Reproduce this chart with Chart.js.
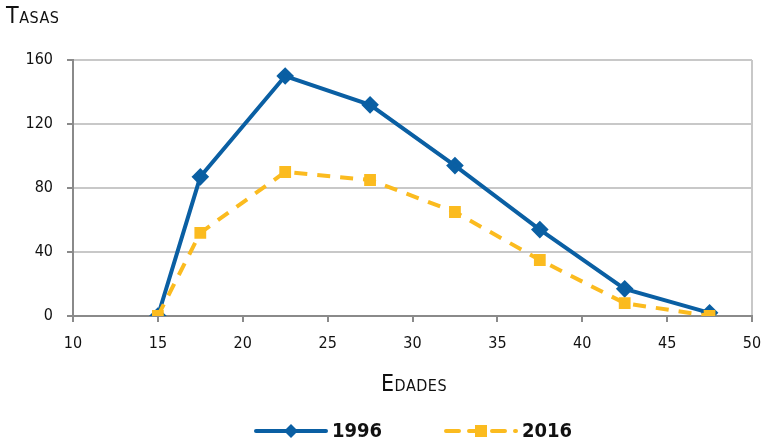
<!DOCTYPE html>
<html>
<head>
<meta charset="utf-8">
<script src="https://cdn.jsdelivr.net/npm/chart.js@4"></script>
<style>
  html, body { margin: 0; padding: 0; background: #fff; }
  #wrap { position: relative; width: 762px; height: 444px; }
  .title { position: absolute; font-family: 'DejaVu Sans Condensed', 'Liberation Sans Narrow', sans-serif;
           font-variant: small-caps; color: #111; font-size: 23px; letter-spacing: 0.5px; }
</style>
</head>
<body>
<div id="wrap">
  <canvas id="chart" width="762" height="444"></canvas>
  <div class="title" style="left:6px; top:2px;">Tasas</div>
  <div class="title" style="left:381px; top:370px;">Edades</div>
</div>
<script>
const edades = [15, 17.5, 22.5, 27.5, 32.5, 37.5, 42.5, 47.5];
const tasas1996 = [0, 87, 150, 132, 94, 54, 17, 2];
const tasas2016 = [0, 52, 90, 85, 65, 35, 8, 0];
const series = ['1996', '2016'];

const font = "'DejaVu Sans Condensed', 'Liberation Sans Narrow', sans-serif";
const blue = '#0a5fa3';
const yellow = '#fbbb1f';

// legend drawn by hand so the line sample carries the marker
const legendPlugin = {
  id: 'lineLegend',
  afterDraw(chart) {
    const ctx = chart.ctx;
    const y = 431;
    const items = [{ x: 256, ds: chart.data.datasets[0] }, { x: 446, ds: chart.data.datasets[1] }];
    ctx.save();
    items.forEach(it => {
      const ds = it.ds;
      ctx.strokeStyle = ds.borderColor;
      ctx.lineWidth = ds.borderWidth;
      ctx.setLineDash(ds.borderDash || []);
      ctx.lineCap = 'round';
      ctx.beginPath();
      ctx.moveTo(it.x, y);
      ctx.lineTo(it.x + 70, y);
      ctx.stroke();
      ctx.setLineDash([]);
      ctx.fillStyle = ds.pointBackgroundColor;
      const cx = it.x + 35;
      if (ds.pointStyle === 'rectRot') {
        ctx.beginPath();
        ctx.moveTo(cx, y - 7); ctx.lineTo(cx + 7, y); ctx.lineTo(cx, y + 7); ctx.lineTo(cx - 7, y);
        ctx.closePath(); ctx.fill();
      } else {
        ctx.fillRect(cx - 6, y - 6, 12, 12);
      }
      ctx.fillStyle = '#111';
      ctx.font = 'bold 20px ' + font;
      ctx.textBaseline = 'middle';
      ctx.fillText(ds.label, it.x + 76, y + 1);
    });
    ctx.restore();
  }
};

new Chart(document.getElementById('chart'), {
  type: 'line',
  data: {
    datasets: [
      {
        label: series[0],
        data: edades.map((x, i) => ({ x, y: tasas1996[i] })),
        borderColor: blue,
        backgroundColor: blue,
        pointBackgroundColor: blue,
        pointBorderColor: blue,
        borderWidth: 4,
        pointStyle: 'rectRot',
        pointRadius: 6,
        tension: 0,
        order: 1,
      },
      {
        label: series[1],
        data: edades.map((x, i) => ({ x, y: tasas2016[i] })),
        borderColor: yellow,
        backgroundColor: yellow,
        pointBackgroundColor: yellow,
        pointBorderColor: yellow,
        borderWidth: 4,
        borderDash: [13, 10],
        pointStyle: 'rect',
        pointRadius: 5.5,
        tension: 0,
        order: 0,
      }
    ]
  },
  options: {
    responsive: false,
    animation: false,
    layout: { padding: { top: 60, right: 10, left: 0, bottom: 0 } },
    plugins: { legend: { display: false }, tooltip: { enabled: false } },
    scales: {
      x: {
        type: 'linear',
        min: 10, max: 50,
        afterFit: s => { s.height = 128; s.paddingLeft = 0; s.paddingRight = 0; },
        ticks: { stepSize: 5, color: '#111', font: { family: font, size: 16 }, padding: 12 },
        grid: {
          color: c => (c.tick && c.tick.value === 50 ? '#c8c8c8' : 'rgba(0,0,0,0)'),
          lineWidth: 2,
          tickColor: '#8a8a8a',
          tickLength: 6,
        },
        border: { color: '#8a8a8a', width: 2 },
      },
      y: {
        min: 0, max: 160,
        afterFit: s => { s.width = 73; s.paddingTop = 0; s.paddingBottom = 0; },
        ticks: { stepSize: 40, color: '#111', font: { family: font, size: 16 }, padding: 14 },
        grid: { color: '#c8c8c8', lineWidth: 2, tickColor: '#8a8a8a', tickLength: 6 },
        border: { color: '#8a8a8a', width: 2 },
      }
    }
  },
  plugins: [legendPlugin]
});
</script>
</body>
</html>
